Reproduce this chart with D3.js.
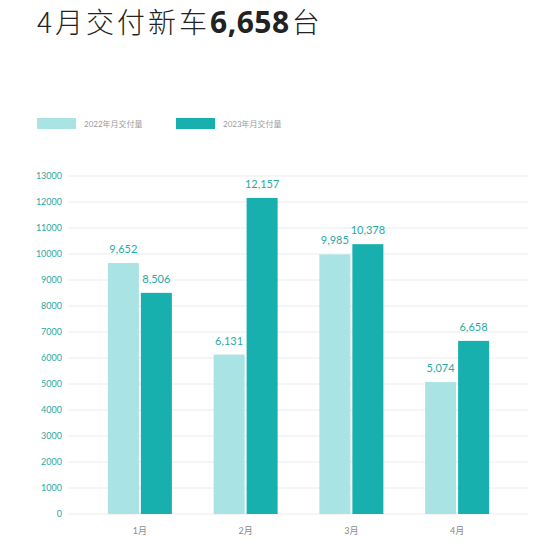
<!DOCTYPE html>
<html>
<head>
<meta charset="utf-8">
<script src="https://cdn.jsdelivr.net/npm/d3@7"></script>
<style>
  body { margin: 0; background: #fff; font-family: Lato, "Noto Sans CJK SC", sans-serif; }
</style>
</head>
<body>
<script>
// data
var months = ["1月", "2月", "3月", "4月"];
var seriesNames = ["2022年月交付量", "2023年月交付量"];
var values2022 = [9652, 6131, 9985, 5074];
var values2023 = [8506, 12157, 10378, 6658];
var yTicks = [0, 1000, 2000, 3000, 4000, 5000, 6000, 7000, 8000, 9000, 10000, 11000, 12000, 13000];

var colors = ["#a9e3e3", "#17b0ae"];
var width = 550, height = 546;

var svg = d3.select("body").append("svg")
    .attr("width", width)
    .attr("height", height);

// title
var title = svg.append("text")
    .attr("x", 37)
    .attr("y", 33)
    .attr("fill", "#222")
    .style("font-family", "'Noto Sans CJK SC', sans-serif")
    .style("font-size", "28px")
    .style("letter-spacing", "3px");
title.append("tspan").style("font-weight", 300).text("4月交付新车");
title.append("tspan").style("font-weight", 700).style("letter-spacing", "0.5px")
    .style("font-family", "'Noto Sans', 'Noto Sans CJK SC'").style("font-size", "30px").text("6,658");
title.append("tspan").style("font-weight", 300).attr("dx", 2).text("台");

// legend
var legend = svg.selectAll("g.legend").data(seriesNames).enter().append("g")
    .attr("class", "legend")
    .attr("transform", function(d, i) { return "translate(" + (37 + i * 139) + ",118)"; });
legend.append("rect")
    .attr("width", 39).attr("height", 11)
    .attr("fill", function(d, i) { return colors[i]; });
legend.append("text")
    .attr("x", 47).attr("y", 9)
    .attr("fill", "#9a9a9a")
    .style("font-size", "8px")
    .text(function(d) { return d; });

// scales
var y = d3.scaleLinear().domain([0, 13000]).range([514, 176]);
var x = d3.scaleBand().domain(months).range([87, 510]);
var x1 = d3.scaleBand().domain([0, 1]).range([0, 64]).paddingInner(0.06);

// grid
svg.selectAll("line.grid").data(yTicks).enter().append("line")
    .attr("x1", 68).attr("x2", 528)
    .attr("y1", function(d) { return y(d); })
    .attr("y2", function(d) { return y(d); })
    .attr("stroke", "#ececec")
    .attr("stroke-width", 1);

// y labels
svg.selectAll("text.ytick").data(yTicks).enter().append("text")
    .attr("x", 62)
    .attr("y", function(d) { return y(d) + 3; })
    .attr("text-anchor", "end")
    .attr("fill", "#2aa9a5")
    .style("font-size", "9px")
    .text(function(d) { return d; });

// x labels
svg.selectAll("text.xtick").data(months).enter().append("text")
    .attr("x", function(d) { return x(d) + x.bandwidth() / 2; })
    .attr("y", 534)
    .attr("text-anchor", "middle")
    .attr("fill", "#8a8a8a")
    .style("font-size", "9px")
    .text(function(d) { return d; });

// bars
var series = [values2022, values2023];
var fmt = d3.format(",");
series.forEach(function(vals, s) {
  var g = svg.append("g");
  g.selectAll("rect").data(vals).enter().append("rect")
    .attr("x", function(d, i) { return x(months[i]) + x.bandwidth() / 2 - 32 + x1(s); })
    .attr("y", function(d) { return y(d); })
    .attr("width", x1.bandwidth())
    .attr("height", function(d) { return y(0) - y(d); })
    .attr("fill", colors[s]);
  g.selectAll("text").data(vals).enter().append("text")
    .attr("x", function(d, i) { return x(months[i]) + x.bandwidth() / 2 - 32 + x1(s) + x1.bandwidth() / 2; })
    .attr("y", function(d) { return y(d) - 10; })
    .attr("text-anchor", "middle")
    .attr("fill", "#2aa9a5")
    .style("font-size", "11px")
    .text(function(d) { return fmt(d); });
});
</script>
</body>
</html>
